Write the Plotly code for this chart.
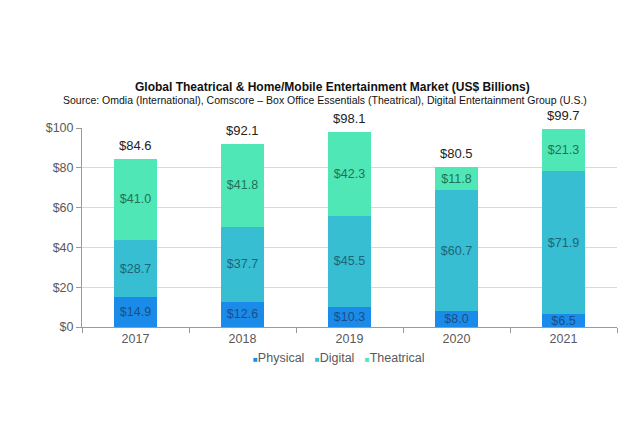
import plotly.graph_objects as go

years = ["2017", "2018", "2019", "2020", "2021"]
physical = [14.9, 12.6, 10.3, 8.0, 6.5]
digital = [28.7, 37.7, 45.5, 60.7, 71.9]
theatrical = [41.0, 41.8, 42.3, 11.8, 21.3]
totals = [84.6, 92.1, 98.1, 80.5, 99.7]
series_names = ["Physical", "Digital", "Theatrical"]

colors = {"Physical": "#1a8be8", "Digital": "#37bed2", "Theatrical": "#50e7b6"}
label_colors = {"Physical": "#1a4f86", "Digital": "#1d6577", "Theatrical": "#24705a"}

fig = go.Figure()
for name, vals in zip(series_names, [physical, digital, theatrical]):
    fig.add_trace(go.Bar(
        x=years, y=vals, name=name,
        marker=dict(color=colors[name], line=dict(width=0)),
        text=[f"${v:.1f}" for v in vals],
        textposition="inside", insidetextanchor="middle",
        textfont=dict(family="Arial", size=12.5, color=label_colors[name]),
        constraintext="none",
        showlegend=False, hoverinfo="skip",
    ))

for i, (yr, tot) in enumerate(zip(years, totals)):
    fig.add_annotation(
        x=i, xref="x", y=tot, text=f"${tot:.1f}", showarrow=False,
        yanchor="bottom", yshift=4,
        font=dict(family="Arial", size=13, color="#222222"),
    )

# plot area in figure pixels: top 120, bottom 319, height 199 (page offset 8px)
def ypix(p):
    return (319 - (p - 8)) / 199

def xpix(p):
    return (p - 8 - 74) / 535

fig.add_annotation(
    text="<b>Global Theatrical & Home/Mobile Entertainment Market (US$ Billions)</b>",
    x=xpix(332), xref="paper", xanchor="center", y=ypix(87), yref="paper", yanchor="middle",
    showarrow=False, font=dict(family="Arial", size=12, color="#111111"),
)
fig.add_annotation(
    text="Source: Omdia (International), Comscore – Box Office Essentials (Theatrical), Digital Entertainment Group (U.S.)",
    x=xpix(325), xref="paper", xanchor="center", y=ypix(100), yref="paper", yanchor="middle",
    showarrow=False, font=dict(family="Arial", size=10.5, color="#111111"),
)

legend_text = "&nbsp;&nbsp;&nbsp;".join(
    f"<span style='color:{colors[n]};font-size:8px'>■</span>{n}" for n in series_names
)
fig.add_annotation(
    text=legend_text, x=xpix(339), xref="paper", xanchor="center",
    y=ypix(358), yref="paper", yanchor="middle", showarrow=False,
    font=dict(family="Arial", size=12.5, color="#595959"),
)

fig.update_layout(
    barmode="stack",
    bargap=0.59,
    width=640, height=440,
    paper_bgcolor="white", plot_bgcolor="white",
    margin=dict(l=74, r=31, t=120, b=121),
    font=dict(family="Arial", color="#595959", size=12.5),
    showlegend=False,
    uniformtext=dict(minsize=12, mode="show"),
)

fig.update_yaxes(
    range=[0, 100], dtick=20, tickprefix="$",
    showgrid=True, gridcolor="#d9d9d9", gridwidth=1,
    showline=True, linecolor="#9a9a9a", linewidth=1,
    ticks="outside", ticklen=5, tickcolor="#9a9a9a",
    zeroline=False, tickfont=dict(size=12.5, color="#595959"),
)
fig.update_xaxes(
    type="category",
    showline=True, linecolor="#9a9a9a", linewidth=1,
    ticks="outside", ticklen=5, tickcolor="#9a9a9a", tickson="boundaries",
    tickfont=dict(size=12.5, color="#595959"),
)

fig.write_html("out.html")
